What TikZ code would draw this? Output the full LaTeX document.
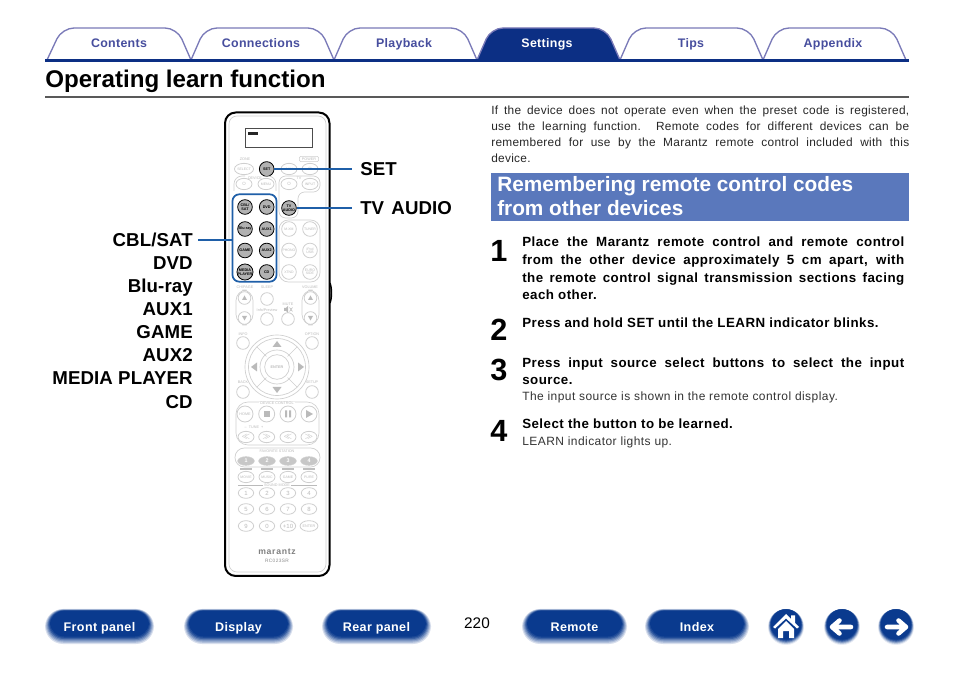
\documentclass[tikz,border=0pt]{standalone}
\usepackage{fontspec}
\setmainfont{Liberation Sans}
\usetikzlibrary{calc,shapes.geometric}
\definecolor{navy}{HTML}{0C2F84}
\definecolor{tabline}{HTML}{7A7AB8}
\definecolor{tabtext}{HTML}{474E9E}
\definecolor{hblue}{HTML}{5A78BC}
\definecolor{cblue}{HTML}{1F5FA8}
\definecolor{pale}{HTML}{CFCFCF}
\definecolor{ptext}{HTML}{BABABA}
\definecolor{btnd}{HTML}{0A3A8E}
\newcommand{\fsz}[1]{\fontsize{#1}{#1}\selectfont}
\newcommand{\lsp}[1]{\addfontfeature{LetterSpace=#1}}
\newcommand{\jl}[2]{\makebox[#1][s]{#2}}
\newlength{\bw}\setlength{\bw}{286.5pt}
\newlength{\iw}\setlength{\iw}{313.5pt}
\tikzset{
 x=.75pt,y=-.75pt,
 tabshape/.style={draw=tabline,line width=1pt,fill=white,line join=round,rounded corners=9pt},
 tabtxt/.style={font=\fsz{9.3}\bfseries\lsp{2.5},text=tabtext,inner sep=0pt,anchor=base},
 lab/.style={font=\fsz{14}\bfseries\lsp{.5},inner sep=0pt,anchor=base east},
 rlab/.style={font=\fsz{14}\bfseries\lsp{.5},inner sep=0pt,anchor=base west},
 body/.style={font=\fsz{8.9}\lsp{2.5},inner sep=0pt,anchor=base west,text=black!85},
 stept/.style={font=\fsz{10}\bfseries\lsp{3.5},inner sep=0pt,anchor=base west},
 note/.style={font=\fsz{9}\lsp{3.7},inner sep=0pt,anchor=base west,text=black!80},
 num/.style={font=\fsz{23}\bfseries,inner sep=0pt,anchor=base west},
 lk/.style={draw=cblue,line width=1.4pt},
 rb/.style={draw=pale,line width=.6pt,fill=white},
 hb/.style={draw=black,line width=.6pt,fill=black!30},
 tiny/.style={font=\fsz{2.8},text=ptext,inner sep=0pt,align=center},
 navtxt/.style={font=\fsz{9.4}\bfseries\lsp{3},text=white,inner sep=0pt,anchor=base},
 arrowline/.style={draw=white,line width=3.4pt,line cap=round,line join=round},
}
\newcommand{\pill}[6]{%
 \foreach \i/\m in {0/16,1/32,2/48,3/64,4/80,5/92,6/100}{
  \fill[btnd!\m!white,rounded corners=13.5pt-\i*.5pt]
   ($(#2+\i*.85,#3+\i*.3)$) rectangle ($(#4-\i*.85,#5-\i*1.25)$);}
 \node[navtxt] (#1) at ({(#2+#4)/2},632) {#6};}
\newcommand{\disc}[4]{%
 \foreach \i/\m in {0/10,1/28,2/50,3/72,4/90,5/100}{
  \fill[btnd!\m!white] (#2,{#3-\i*.5}) circle ({#4-\i*.55});}
 \coordinate (#1) at (#2,#3);}
\newcommand{\ovb}[5]{%
 \node[#1,ellipse,minimum width=12pt,minimum height=8.5pt,inner sep=0pt,text=ptext,font=\fsz{2.6}] (#2) at (#3,#4) {#5};}
\newcommand{\circb}[5]{%
 \node[#1,circle,minimum size=11pt,inner sep=0pt,font=\fsz{2.8}\bfseries,align=center] (#2) at (#3,#4) {#5};}
\begin{document}
\begin{tikzpicture}
\useasboundingbox (0,0) rectangle (954,673);
% tabs
\path[tabshape] (47,60) -- (62,28) -- (177,28) -- (191,60);
\path[tabshape] (191,60) -- (205,28) -- (320,28) -- (334,60);
\path[tabshape] (334,60) -- (348,28) -- (463,28) -- (477,60);
\path[tabshape] (620,60) -- (634,28) -- (749,28) -- (763,60);
\path[tabshape] (763,60) -- (777,28) -- (892,28) -- (906,60);
\path[tabshape,fill=navy] (477,60) -- (491,28) -- (606,28) -- (620,60);
\fill[navy] (45,59) rectangle (909,62);
\node[tabtxt] (t1) at (119,47.5) {Contents};
\node[tabtxt] (t2) at (261,47.5) {Connections};
\node[tabtxt] (t3) at (404,47.5) {Playback};
\node[tabtxt,text=white] (t4) at (547,47.5) {Settings};
\node[tabtxt] (t5) at (691,47.5) {Tips};
\node[tabtxt] (t6) at (833,47.5) {Appendix};
% title
\node[font=\fsz{18.1}\bfseries,inner sep=0pt,anchor=base west] (title) at (45,88) {Operating learn function};
\fill[black!65] (45,96.5) rectangle (909,98);
% remote
\draw[black,line width=1.5pt,rounded corners=8pt,fill=white] (225,112.5) rectangle (329.5,576);
\draw[pale,line width=.5pt,rounded corners=6pt] (229,116) rectangle (326,572);
\draw[black,line width=1.1pt,rounded corners=1pt] (330,283) .. controls (332,288) and (332,298) .. (330,303);
\draw[black!70,line width=.7pt] (245,128.5) rectangle (312,147);
\fill[black!85] (248,132.5) rectangle (258,135.5);
% top rows
\node[tiny] (zz) at (245,159) {ZONE};
\node[tiny,draw=pale,line width=.4pt,rounded corners=1pt,inner xsep=2pt,inner ysep=1pt] (pw) at (309,159) {POWER};
\ovb{rb}{r1}{244}{169}{SELECT}
\ovb{rb}{r3}{289}{169}{AUX}
\ovb{rb}{r4}{310}{169}{$\circ$}
\circb{hb}{setb}{266.7}{169}{SET}
\node[tiny] (dv) at (255,178) {DEVICE};
\node[tiny] (tvl) at (299,178) {TV};
\ovb{rb}{r5}{244}{184}{$\circ$}
\ovb{rb}{r6}{266}{184}{MENU}
\ovb{rb}{r7}{289}{184}{$\circ$}
\ovb{rb}{r8}{310}{184}{INPUT}
\draw[pale,line width=.5pt,rounded corners=6pt] (234,191) -- (234,176) -- (245,176) (265,176) -- (276,176) -- (276,191);
\draw[pale,line width=.5pt,rounded corners=5pt] (279,218) -- (279,176) -- (320,176) -- (320,192) -- (298,192) -- (298,218) -- cycle;
\draw[pale,line width=.5pt,rounded corners=7pt] (279,220) -- (320,220) -- (320,282) -- (279,282) -- cycle;
% highlighted buttons
\circb{hb}{h1}{245}{207}{CBL/\\SAT}
\circb{hb}{h2}{266.7}{207}{DVD}
\circb{hb}{h3}{245}{229}{Blu-ray}
\circb{hb}{h4}{266.7}{229}{AUX1}
\circb{hb}{h5}{245}{250.5}{GAME}
\circb{hb}{h6}{266.7}{250.5}{AUX2}
\circb{hb}{h7}{245}{272}{MEDIA\\PLAYER}
\circb{hb}{h8}{266.7}{272}{CD}
\circb{hb}{tva}{289}{208}{TV\\AUDIO}
\node[draw=cblue,line width=1.3pt,rounded corners=5pt,minimum width=33pt,minimum height=65.5pt,inner sep=0pt] (grpb) at (254.5,238) {};
\foreach \n/\x/\y/\t in {a/289/229/M-XM,b/310/229/TUNER,c/289/250.5/PHONO,d/310/250.5/iPod\\USB,e/289/272/XTND,f/310/272/EURO\\SIDE}{
 \node[rb,circle,minimum size=11pt,inner sep=0pt,font=\fsz{2.6},text=ptext,align=center] (s\n) at (\x,\y) {\t};}
% channel / volume
\node[tiny] (l1) at (245,287) {CH/PAGE};
\node[tiny] (l2) at (267,287) {SLEEP};
\node[tiny] (l3) at (310,287) {VOLUME};
\node[tiny] (l4) at (288,304) {MUTE};
\node[tiny] (l5) at (267,310) {Info/Preview};
\draw[pale,line width=.5pt,rounded corners=8pt] (236,290) rectangle (253,325);
\draw[pale,line width=.5pt,rounded corners=8pt] (302,290) rectangle (319,325);
\foreach \n/\x/\y in {q1/244.5/298,q2/244.5/318,q3/310.5/298,q4/310.5/318,q5/267/299,q6/267/319,q7/288/319,q8/243/343,q9/312/343,q10/243/392,q11/312/392}{
 \node[rb,circle,minimum size=9.5pt,inner sep=0pt] (\n) at (\x,\y) {};}
\foreach \x in {244.5,310.5}{
 \fill[ptext] (\x-2.5,300) -- (\x+2.5,300) -- (\x,295.5) -- cycle;
 \fill[ptext] (\x-2.5,316) -- (\x+2.5,316) -- (\x,320.5) -- cycle;}
\fill[ptext] (284,308) rectangle (286,311) (286,308) -- (288,306) -- (288,313) -- (286,311) -- cycle;
\draw[ptext,line width=.4pt] (289.5,307.5) -- (292.5,311.5) (292.5,307.5) -- (289.5,311.5);
\node[tiny] (l6) at (243,334) {INFO};
\node[tiny] (l7) at (312,334) {OPTION};
\node[tiny] (l8) at (243,382) {BACK};
\node[tiny] (l9) at (312,382) {SETUP};
% direction pad
\coordinate (pad) at (277,367);
\draw[pale,line width=.5pt] (pad) circle (32);
\draw[pale,line width=.5pt] (pad) circle (28.5);
\foreach \a in {45,135,225,315}{\draw[pale,line width=.5pt] ($(pad)+(\a:15)$) -- ($(pad)+(\a:28.5)$);}
\node[draw=pale,line width=.5pt,circle,minimum size=25.5pt,inner sep=0pt] (padring) at (pad) {};
\node[draw=pale,line width=.5pt,circle,minimum size=18.5pt,inner sep=0pt,font=\fsz{2.8}\bfseries,text=ptext] (enter) at (pad) {ENTER};
\fill[ptext] (272.5,347) -- (281.5,347) -- (277,341) -- cycle;
\fill[ptext] (272.5,387) -- (281.5,387) -- (277,393) -- cycle;
\fill[ptext] (257,362.5) -- (257,371.5) -- (251,367) -- cycle;
\fill[ptext] (298,362.5) -- (298,371.5) -- (304,367) -- cycle;
% device control
\draw[pale,line width=.5pt,rounded corners=9pt] (236,402) rectangle (319,445);
\node[tiny,fill=white,inner xsep=1pt] (l10) at (277,403.5) {DEVICE CONTROL};
\node[rb,circle,minimum size=12pt,inner sep=0pt,font=\fsz{2.8},text=ptext] (m1) at (245,414) {HOME};
\node[rb,circle,minimum size=12pt,inner sep=0pt] (m2) at (266.7,414) {};
\node[rb,circle,minimum size=12pt,inner sep=0pt] (m3) at (288,414) {};
\node[rb,circle,minimum size=12pt,inner sep=0pt] (m4) at (309,414) {};
\fill[ptext] (263.5,411) rectangle (270,417.5);
\fill[ptext] (285,410.5) rectangle (287,417.5) (289,410.5) rectangle (291,417.5);
\fill[ptext] (306,410) -- (306,418) -- (313,414) -- cycle;
\node[tiny] (l11) at (254,427) {--\ \ TUNE\ \ +};
\foreach \n/\x/\t in {k1/246/$\ll$,k2/266.7/$\gg$,k3/288/$\ll$,k4/309/$\gg$}{\ovb{rb}{\n}{\x}{437}{\t}}
% favorites
\draw[pale,line width=.5pt,rounded corners=7pt] (235,448) rectangle (320,467);
\node[tiny] (l12) at (277,451) {FAVORITE STATION};
\foreach \x/\t in {246/1,267/2,288/3,309/4}{
 \node[ellipse,fill=black!22,draw=pale,minimum width=12.5pt,minimum height=6.5pt,inner sep=0pt,font=\fsz{4}\bfseries,text=white] (fav\t) at (\x,461) {\t};
 \fill[black!25] (\x-6,468.5) rectangle (\x+6,470);}
\foreach \x/\t/\n in {246/MOVIE/x1,267/MUSIC/x2,288/GAME/x3,309/PURE/x4}{\ovb{rb}{\n}{\x}{477}{\t}}
\node[tiny,inner xsep=1pt] (l13) at (277,485) {SOUND MODE};
\coordinate (sl) at (238,485);
\coordinate (sr) at (317,485);
\draw[ptext,line width=.3pt] (sl) -- (l13) -- (sr);
\foreach \x/\t in {246/1,267/2,288/3,309/4}{\node[rb,ellipse,minimum width=11.5pt,minimum height=8pt,inner sep=0pt,text=ptext,font=\fsz{4.5}] (n\t) at (\x,493) {\t};}
\foreach \x/\t in {246/5,267/6,288/7,309/8}{\node[rb,ellipse,minimum width=11.5pt,minimum height=8pt,inner sep=0pt,text=ptext,font=\fsz{4.5}] (n\t) at (\x,509) {\t};}
\foreach \x/\t/\n/\f in {246/9/n9/4.5,267/0/n0/4.5,288/+10/n10/4.5,309/ENTER/n11/2.8}{\node[rb,ellipse,minimum width=11.5pt,minimum height=8pt,inner sep=0pt,text=ptext,font=\fsz{\f}] (\n) at (\x,526) {\t};}
\node[font=\fsz{6.5}\bfseries\lsp{8},text=black!50,inner sep=0pt] (mz) at (277,552) {marantz};
\node[font=\fsz{3.6}\lsp{8},text=black!45,inner sep=0pt] (rc) at (277,560.5) {RC023SR};
% left labels
\node[lab] (a1) at (193,246.5) {CBL/SAT};
\node[lab] (a2) at (193,269.5) {DVD};
\node[lab] (a3) at (193,292.5) {Blu-ray};
\node[lab] (a4) at (193,315.5) {AUX1};
\node[lab] (a5) at (193,338.5) {GAME};
\node[lab] (a6) at (193,361.5) {AUX2};
\node[lab] (a7) at (193,384.5) {MEDIA PLAYER};
\node[lab] (a8) at (193,408.5) {CD};
\node[rlab] (b1) at (360,175.5) {SET};
\node[rlab] (b2) at (360,214.5) {TV\hspace{1.5pt} AUDIO};
\coordinate (ca) at (198,240);
\coordinate (cb) at (352,169);
\coordinate (cc) at (352,208);
\draw[lk] (ca) -- (grpb.west |- ca);
\draw[lk] (setb.east) -- (cb);
\draw[lk] (tva.east) -- (cc);
% right text
\node[body] (p1) at (491,115) {\jl{\iw}{If the device does not operate even when the preset code is registered,}};
\node[body] (p2) at (491,131) {\jl{\iw}{use the learning function. Remote codes for different devices can be}};
\node[body] (p3) at (491,147) {\jl{\iw}{remembered for use by the Marantz remote control included with this}};
\node[body] (p4) at (491,163) {device.};
\fill[hblue] (491,173) rectangle (909,221);
\node[font=\fsz{15.6}\bfseries,text=white,inner sep=0pt,anchor=base west] (h1t) at (497,192) {Remembering remote control codes};
\node[font=\fsz{15.6}\bfseries,text=white,inner sep=0pt,anchor=base west] (h2t) at (497,216) {from other devices};
\node[num] (s1) at (490,262) {1};
\node[stept] (a11) at (522,247) {\jl{\bw}{Place the Marantz remote control and remote control}};
\node[stept] (a12) at (522,265) {\jl{\bw}{from the other device approximately 5 cm apart, with}};
\node[stept] (a13) at (522,283) {\jl{\bw}{the remote control signal transmission sections facing}};
\node[stept] (a14) at (522,300) {each other.};
\node[num] (s2) at (490,341) {2};
\node[stept] (a21) at (522,328) {Press and hold SET until the LEARN indicator blinks.};
\node[num] (s3) at (490,381) {3};
\node[stept] (a31) at (522,368) {\jl{\bw}{Press input source select buttons to select the input}};
\node[stept] (a32) at (522,385) {source.};
\node[note] (a33) at (522,401) {The input source is shown in the remote control display.};
\node[num] (s4) at (490,442) {4};
\node[stept] (a41) at (522,429) {Select the button to be learned.};
\node[note] (a42) at (522,446) {LEARN indicator lights up.};
% bottom nav
\pill{f1}{45}{609}{154}{644}{Front panel}
\pill{f2}{184}{609}{293}{644}{Display}
\pill{f3}{322}{609}{431}{644}{Rear panel}
\pill{f4}{522}{609}{627}{644}{Remote}
\pill{f5}{645}{609}{749}{644}{Index}
\node[font=\fsz{11.5},inner sep=0pt] (pg) at (477,623) {220};
\disc{d1}{786}{627}{18}
\disc{d2}{842}{627}{18}
\disc{d3}{896}{627}{18}
\fill[white] (773,627) -- (786,614) -- (791,619) -- (791,615.5) -- (795,615.5) -- (795,623) -- (799,627) -- (797,628.5) -- (786,618.5) -- (775,628.5) -- cycle;
\fill[white] (778,629) -- (786,621) -- (794,629) -- (794,638) -- (789,638) -- (789,631) -- (783,631) -- (783,638) -- (778,638) -- cycle;
\draw[arrowline] (851,627) -- (832,627) (839.5,620.5) -- (832,627) -- (839.5,633.5);
\draw[arrowline] (887,627) -- (906,627) (898.5,620.5) -- (906,627) -- (898.5,633.5);
\end{tikzpicture}
\end{document}
